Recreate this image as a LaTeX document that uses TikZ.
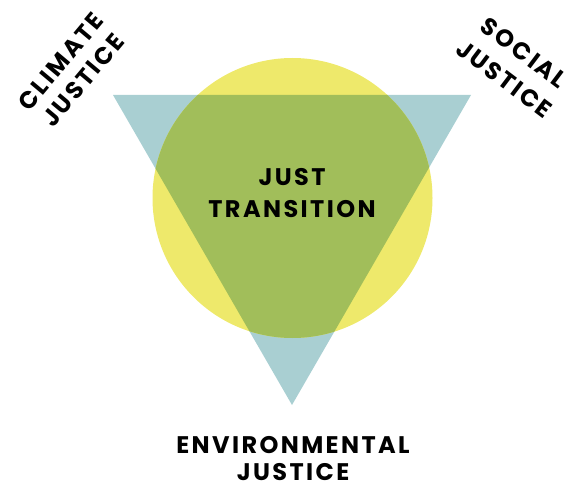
\documentclass[tikz,border=0pt]{standalone}
\usepackage{fontspec}
\setmainfont{Poppins}
\definecolor{tealc}{HTML}{A9CFD2}
\definecolor{yellowc}{HTML}{EEE96B}
\definecolor{greenc}{HTML}{A1BE5A}
\tikzset{
  lbl/.style={align=center, inner sep=0pt, text=black,
    font=\bfseries\fontsize{24}{30}\selectfont\addfontfeatures{LetterSpace=10}}
}
\begin{document}
\begin{tikzpicture}[x=1pt,y=-1pt]
\useasboundingbox (0,0) rectangle (568,489);
\coordinate (A) at (113,95);
\coordinate (B) at (471,95);
\coordinate (C) at (292,405);
\coordinate (O) at (292.5,198);
\fill[tealc] (A) -- (B) -- (C) -- cycle;
\fill[yellowc] (O) circle (140pt);
\begin{scope}
  \clip (A) -- (B) -- (C) -- cycle;
  \fill[greenc] (O) circle (140pt);
\end{scope}
\node[lbl, font=\bfseries\fontsize{24}{32}\selectfont\addfontfeatures{LetterSpace=10}] (jt) at (292,193) {JUST\\TRANSITION};
\node[lbl, font=\bfseries\fontsize{24}{27}\selectfont\addfontfeatures{LetterSpace=10}] (ej) at (293,459) {ENVIRONMENTAL\\JUSTICE};
\node[lbl, rotate=50, font=\bfseries\fontsize{24}{29}\selectfont\addfontfeatures{LetterSpace=10}] (cj) at (72,71) {CLIMATE\\JUSTICE};
\node[lbl, rotate=-37, font=\bfseries\fontsize{24}{33}\selectfont\addfontfeatures{LetterSpace=10}] (sj) at (514,66) {SOCIAL\\JUSTICE};
\end{tikzpicture}
\end{document}
